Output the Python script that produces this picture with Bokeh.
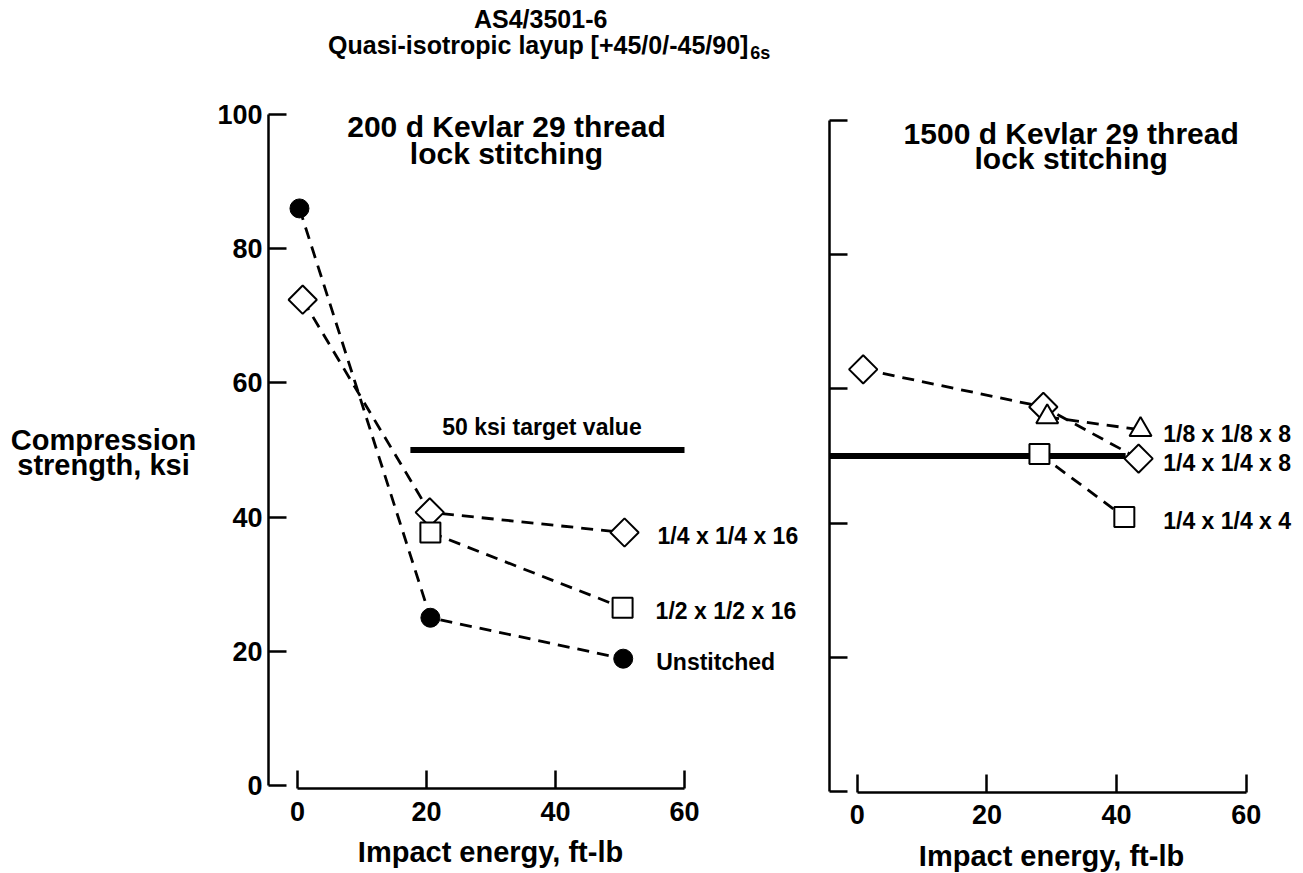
import math
from bokeh.plotting import figure
from bokeh.layouts import row, column
from bokeh.models import FixedTicker, Range1d
from bokeh.core.properties import value
from bokeh.embed import file_html
from bokeh.resources import INLINE

FONT = "Liberation Sans"

# ---------------- data ----------------
# Left panel: 200 d Kevlar 29 thread lock stitching
unstitched_x = [0.3, 20.6, 50.5]
unstitched_y = [86.0, 25.0, 18.9]
q16_x = [0.8, 20.5, 50.7]          # 1/4 x 1/4 x 16 (diamonds)
q16_y = [72.4, 40.7, 37.7]
h16_x = [20.6, 50.4]               # 1/2 x 1/2 x 16 (squares)
h16_y = [37.7, 26.5]
target_left_x = [17.5, 60.0]
target_y = [50.0, 50.0]

# Right panel: 1500 d Kevlar 29 thread lock stitching
q8_x = [0.9, 28.7, 43.4]           # 1/4 x 1/4 x 8 (diamonds)
q8_y = [62.9, 57.3, 49.6]
e8_x = [29.3, 43.7]                # 1/8 x 1/8 x 8 (triangles)
e8_y = [55.8, 53.9]
q4_x = [28.1, 41.2]                # 1/4 x 1/4 x 4 (squares)
q4_y = [50.3, 40.9]
target_right_x = [-4.3, 41.4]

x_ticks = [0, 20, 40, 60]
y_ticks = [0, 20, 40, 60, 80, 100]

left_labels = ["1/4 x 1/4 x 16", "1/2 x 1/2 x 16", "Unstitched"]
right_labels = ["1/8 x 1/8 x 8", "1/4 x 1/4 x 8", "1/4 x 1/4 x 4"]
y_title = ["Compression", "strength, ksi"]
x_title = "Impact energy, ft-lb"

DASH = "12 8"
LW = 2.8


def style_axes(p):
    for ax in list(p.xaxis) + list(p.yaxis):
        ax.axis_line_width = 2.5
        ax.axis_line_color = "black"
        ax.major_tick_line_width = 2.5
        ax.major_tick_line_color = "black"
        ax.major_tick_in = 18
        ax.major_tick_out = 0
        ax.minor_tick_line_color = None
        ax.major_label_text_font = FONT
        ax.major_label_text_font_style = "bold"
        ax.major_label_text_font_size = "27px"
        ax.major_label_text_color = "black"
    p.xaxis.ticker = FixedTicker(ticks=x_ticks)
    p.xaxis.bounds = (0, 60)
    p.yaxis.ticker = FixedTicker(ticks=y_ticks)
    p.yaxis.bounds = (0, 100)
    p.xgrid.visible = False
    p.ygrid.visible = False
    p.outline_line_color = None


def txt(p, xs, ys, texts, size, align="left", baseline="middle", **kw):
    p.text(x=xs, y=ys, text=texts, text_font=value(FONT), text_font_style="bold",
           text_font_size=size, text_align=align, text_baseline=baseline,
           text_color="black", **kw)


def strip(width, height):
    s = figure(width=width, height=height, x_range=Range1d(0, width),
               y_range=Range1d(height, 0), output_backend="svg", toolbar_location=None,
               x_axis_location=None, y_axis_location=None,
               min_border=0, min_border_left=0, min_border_right=0,
               min_border_top=0, min_border_bottom=0, outline_line_color=None)
    s.xgrid.visible = False
    s.ygrid.visible = False
    return s


# ---------------- left strip: y-axis title ----------------
p0 = strip(210, 832)
txt(p0, [103, 103], [464, 490], y_title, "29px", align="center")

# ---------------- left panel ----------------
p1 = figure(width=603, height=832, x_range=(-4.5, 80.0), y_range=(-0.45, 116.99),
            output_backend="svg", toolbar_location=None,
            min_border_left=58, min_border_right=0, min_border_top=0,
            min_border_bottom=44)
style_axes(p1)
p1.xaxis.major_label_standoff = 13
p1.yaxis.major_label_standoff = 6

p1.line(target_left_x, target_y, line_width=6, color="black")
p1.line(unstitched_x, unstitched_y, line_dash=DASH, line_width=LW, color="black")
p1.line(q16_x, q16_y, line_dash=DASH, line_width=LW, color="black")
p1.line(h16_x, h16_y, line_dash=DASH, line_width=LW, color="black")
p1.scatter(unstitched_x, unstitched_y, marker="circle", size=19,
           fill_color="black", line_color="black")
p1.scatter(q16_x, q16_y, marker="square", angle=math.pi / 4, size=20,
           fill_color="white", line_color="black", line_width=2)
p1.scatter(h16_x, h16_y, marker="square", size=20,
           fill_color="white", line_color="black", line_width=2)

ends_l_x = [q16_x[-1], h16_x[-1], unstitched_x[-1]]
ends_l_y = [q16_y[-1], h16_y[-1], unstitched_y[-1]]
txt(p1, ends_l_x, ends_l_y, left_labels, "23px", x_offset=33, y_offset=3)

txt(p1, [37.9], [53.5], ["50 ksi target value"], "23px", align="center")
txt(p1, [32.4, 32.4], [98.2, 94.2], ["200 d Kevlar 29 thread", "lock stitching"],
    "30px", align="center")

# overall title
txt(p1, [37.7], [114.2], ["AS4/3501-6"], "25px", align="center")
txt(p1, [69.9], [110.3], ["Quasi-isotropic layup [+45/0/-45/90]"], "25px", align="right")
txt(p1, [70.2], [109.1], ["6s"], "18px", align="left")

# ---------------- right panel ----------------
p2 = figure(width=490, height=836, x_range=(-4.3, 68.85), y_range=(-0.15, 117.86),
            output_backend="svg", toolbar_location=None,
            min_border_left=16, min_border_right=0, min_border_top=0,
            min_border_bottom=43)
style_axes(p2)
p2.xaxis.major_label_standoff = 12
p2.yaxis.major_label_overrides = {t: "" for t in y_ticks}
p2.yaxis.major_label_standoff = 0

p2.line(target_right_x, target_y, line_width=6, color="black")
p2.line(q8_x, q8_y, line_dash=DASH, line_width=LW, color="black")
p2.line(e8_x, e8_y, line_dash=DASH, line_width=LW, color="black")
p2.line(q4_x, q4_y, line_dash=DASH, line_width=LW, color="black")
p2.scatter(q8_x, q8_y, marker="square", angle=math.pi / 4, size=20,
           fill_color="white", line_color="black", line_width=2)
p2.scatter(e8_x, e8_y, marker="triangle", size=22,
           fill_color="white", line_color="black", line_width=2)
p2.scatter(q4_x, q4_y, marker="square", size=20,
           fill_color="white", line_color="black", line_width=2)

label_x_right = 47.2
txt(p2, [label_x_right] * 3, [e8_y[-1], q8_y[-1], q4_y[-1]], right_labels, "23px",
    y_offset=4)
txt(p2, [33.0, 33.0], [98.1, 94.3], ["1500 d Kevlar 29 thread", "lock stitching"],
    "30px", align="center")

# ---------------- bottom strip: x-axis titles ----------------
pb = strip(1303, 37)
txt(pb, [490, 1051], [15, 19], [x_title, x_title], "29px", align="center")

layout = column(row(p0, p1, p2), pb)
open("out.html", "w").write(file_html(layout, INLINE))
